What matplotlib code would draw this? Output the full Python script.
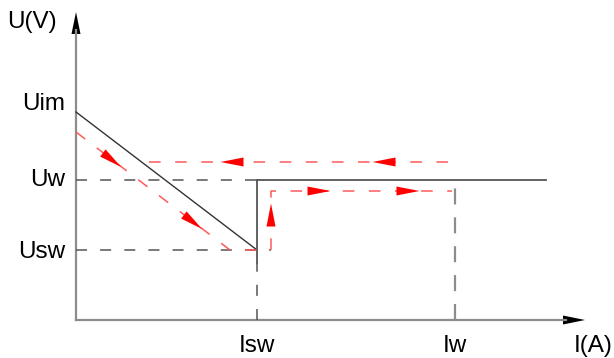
import numpy as np
import matplotlib
matplotlib.use("Agg")
import matplotlib.pyplot as plt

plt.rcParams['font.family'] = ['Liberation Sans', 'DejaVu Sans']

# levels (data units, 1 unit = 100 px)
u_levels = [2.08, 1.40, 0.70]
u_labels = ["Uim", "Uw", "Usw"]
i_levels = [1.81, 3.79]
i_labels = ["Isw", "Iw"]

# characteristic curve (solid)
curve_x = [0.0, 1.81]
curve_y = [2.08, 0.70]
step_x = [1.81, 1.81]
step_y = [0.57, 1.40]
flat_x = [1.81, 4.70]
flat_y = [1.40, 1.40]

# red operating path
down_x = [0.0, 1.54, 1.95, 1.95, 3.76]
down_y = [1.88, 0.70, 0.70, 1.29, 1.29]
back_x = [3.72, 0.66]
back_y = [1.58, 1.58]

# red arrow heads: x, y, direction (dx, dy)
arrows = [
    (0.36, 1.60, (1.0, -0.766)),
    (1.17, 0.98, (1.0, -0.766)),
    (1.95, 1.05, (0.0, 1.0)),
    (2.43, 1.29, (1.0, 0.0)),
    (3.32, 1.29, (1.0, 0.0)),
    (3.08, 1.58, (-1.0, 0.0)),
    (1.56, 1.58, (-1.0, 0.0)),
]

fig = plt.figure(figsize=(6.14, 3.58), dpi=100)
ax = fig.add_axes([0, 0, 1, 1])
ax.set_xlim(-0.76, 5.38)
ax.set_ylim(-0.38, 3.20)
ax.axis('off')

axis_col = '#8c8c8c'
# axes with arrow heads
ax.plot([0, 0], [0, 2.90], color=axis_col, lw=1.6)
ax.plot([0, 4.90], [0, 0], color=axis_col, lw=1.6)
ax.fill([-0.045, 0.045, 0], [2.86, 2.86, 3.08], color='black', lw=0)
ax.fill([4.87, 4.87, 5.09], [-0.045, 0.045, 0], color='black', lw=0)

dash_k = (7.2, 8.6)
# guide lines
ax.plot([0, 1.81], [1.40, 1.40], color='#555555', lw=1.1, dashes=dash_k)
ax.plot([0, 1.95], [0.70, 0.70], color='#555555', lw=1.1, dashes=dash_k)
ax.plot([1.81, 1.81], [0, 0.57], color='#555555', lw=1.1, dashes=dash_k)
ax.plot([3.79, 3.79], [0, 1.40], color='#8c8c8c', lw=1.6, dashes=(7.2, 5.8))

# characteristic
ax.plot(curve_x, curve_y, color='#333333', lw=1.0)
ax.plot(step_x, step_y, color='#555555', lw=1.3)
ax.plot(flat_x, flat_y, color='#555555', lw=1.3)

# red path
red = '#ff5a5a'
ax.plot(down_x, down_y, color=red, lw=1.1, dashes=(7.6, 9.5))
ax.plot(back_x, back_y, color=red, lw=1.1, dashes=(7.6, 9.5))

L, W = 0.23, 0.045
for x, y, (dx, dy) in arrows:
    n = np.hypot(dx, dy)
    dx, dy = dx / n, dy / n
    px, py = -dy, dx
    tip = (x + dx * L / 2, y + dy * L / 2)
    b1 = (x - dx * L / 2 + px * W, y - dy * L / 2 + py * W)
    b2 = (x - dx * L / 2 - px * W, y - dy * L / 2 - py * W)
    ax.fill([tip[0], b1[0], b2[0]], [tip[1], b1[1], b2[1]], color='red', lw=0, zorder=5)

fs = 17.5
ax.text(-0.69, 2.98, "U(V)", fontsize=fs, ha='left', va='center')
label_off = [0.08, 0.0, -0.02]
for lev, lab, off in zip(u_levels, u_labels, label_off):
    ax.text(-0.11, lev + off, lab, fontsize=fs, ha='right', va='center')
for lev, lab in zip(i_levels, i_labels):
    ax.text(lev, -0.26, lab, fontsize=fs, ha='center', va='center')
ax.text(5.17, -0.26, "I(A)", fontsize=fs, ha='center', va='center')

fig.savefig("out.png", dpi=100)
